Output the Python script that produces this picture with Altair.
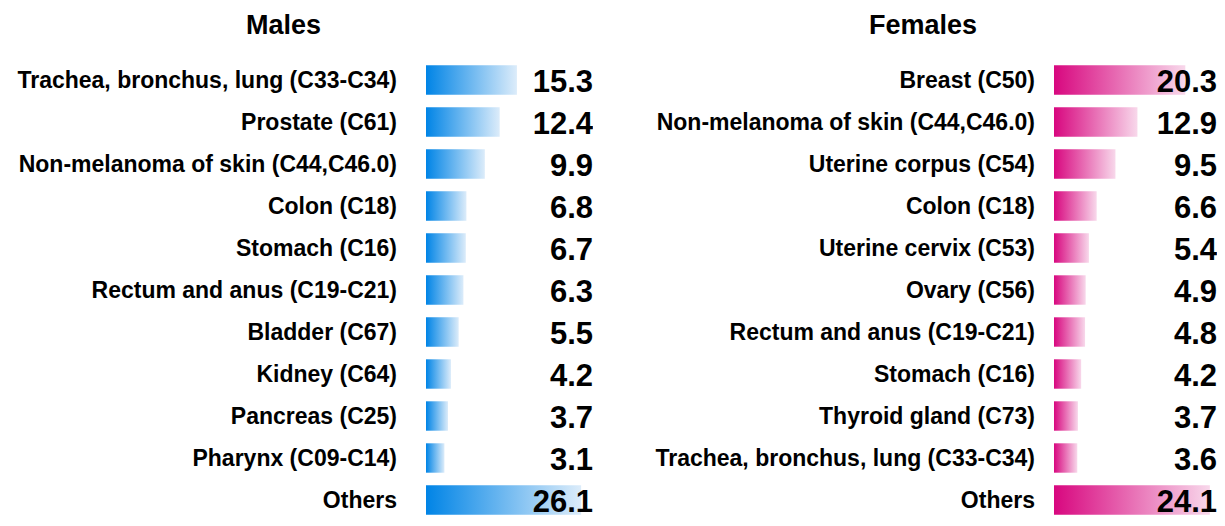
import altair as alt
import pandas as pd

male_sites = [
    "Trachea, bronchus, lung (C33-C34)",
    "Prostate (C61)",
    "Non-melanoma of skin (C44,C46.0)",
    "Colon (C18)",
    "Stomach (C16)",
    "Rectum and anus (C19-C21)",
    "Bladder (C67)",
    "Kidney (C64)",
    "Pancreas (C25)",
    "Pharynx (C09-C14)",
    "Others",
]
male_values = [15.3, 12.4, 9.9, 6.8, 6.7, 6.3, 5.5, 4.2, 3.7, 3.1, 26.1]

female_sites = [
    "Breast (C50)",
    "Non-melanoma of skin (C44,C46.0)",
    "Uterine corpus (C54)",
    "Colon (C18)",
    "Uterine cervix (C53)",
    "Ovary (C56)",
    "Rectum and anus (C19-C21)",
    "Stomach (C16)",
    "Thyroid gland (C73)",
    "Trachea, bronchus, lung (C33-C34)",
    "Others",
]
female_values = [20.3, 12.9, 9.5, 6.6, 5.4, 4.9, 4.8, 4.2, 3.7, 3.6, 24.1]

FONT = "Liberation Sans"
PLOT_H = 457
ROWS_RANGE = 462  # 11 rows of 42 px


def panel(sites, values, title, c0, c1, total_w, label_right, bar_left, xmax, title_dx):
    df = pd.DataFrame({
        "site": sites,
        "value": values,
        "label": [f"{v:.1f}" for v in values],
    })
    y = alt.Y(
        "site:N",
        sort=sites,
        title=None,
        axis=None,
        scale=alt.Scale(paddingInner=0.3, paddingOuter=0.15, range=[0, ROWS_RANGE]),
    )
    grad = alt.Gradient(
        gradient="linear",
        stops=[alt.GradientStop(color=c0, offset=0), alt.GradientStop(color=c1, offset=1)],
        x1=0, x2=1, y1=0, y2=0,
    )
    bars = alt.Chart(df).mark_bar(color=grad, clip=True).encode(
        x=alt.X("value:Q", scale=alt.Scale(domain=[0, xmax], range=[bar_left, total_w]), axis=None),
        y=y,
    )
    names = alt.Chart(df).mark_text(
        align="right", baseline="middle", font=FONT, fontSize=23,
        fontWeight="bold", color="black", dy=1, clip=True,
    ).encode(
        x=alt.value(label_right),
        y=y,
        text="site:N",
    )
    vals = alt.Chart(df).mark_text(
        align="right", baseline="middle", font=FONT, fontSize=31,
        fontWeight="bold", color="black", dy=3, clip=True,
    ).encode(
        x=alt.value(total_w),
        y=y,
        text="label:N",
    )
    return alt.layer(bars, names, vals).properties(
        width=total_w,
        height=PLOT_H,
        title=alt.TitleParams(
            title, font=FONT, fontSize=27, fontWeight="bold", color="black",
            anchor="middle", dx=title_dx, offset=19,
        ),
    )


males = panel(male_sites, male_values, "Males", "#0084e6", "#dcecfa",
              585, 389, 418, 28.1, -17)
females = panel(female_sites, female_values, "Females", "#d8077f", "#f8d8eb",
                568, 386, 405, 25.2, -10)

chart = (
    alt.hconcat(males, females, spacing=56)
    .properties(padding={"left": 0, "top": 4, "right": 0, "bottom": 0})
    .configure_view(stroke=None)
)

chart.save("out.html", embed_options={"renderer": "svg", "actions": False})
